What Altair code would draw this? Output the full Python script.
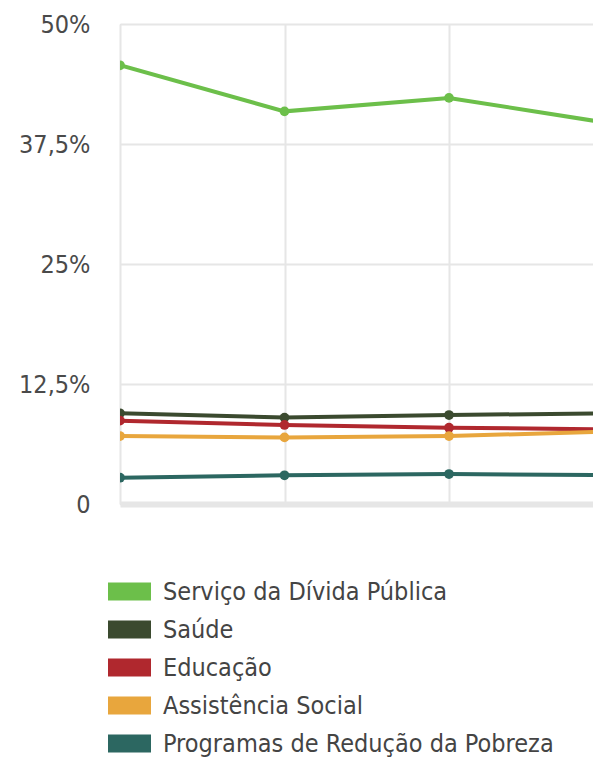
import altair as alt
import pandas as pd

periodos = [0, 1, 2, 3]
series = [
    "Serviço da Dívida Pública",
    "Saúde",
    "Educação",
    "Assistência Social",
    "Programas de Redução da Pobreza",
]
divida = [45.7, 40.9, 42.3, 39.6]
saude = [9.45, 9.0, 9.27, 9.45]
educacao = [8.68, 8.23, 7.95, 7.77]
assistencia = [7.08, 6.94, 7.08, 7.55]
pobreza = [2.74, 2.99, 3.12, 3.01]
cores = ["#6cbf4a", "#3b4a2f", "#b0282e", "#e8a63d", "#2c6761"]

valores = [divida, saude, educacao, assistencia, pobreza]
rows = []
for nome, vals in zip(series, valores):
    for p, v in zip(periodos, vals):
        rows.append({"periodo": p, "serie": nome, "valor": v})
df = pd.DataFrame(rows)

W = 473
H = 480
step = 164.5
xdom = [0, W / step]

FONT = "DejaVu Sans Condensed, Liberation Sans Narrow, DejaVu Sans"

x = alt.X(
    "periodo:Q",
    scale=alt.Scale(domain=xdom, nice=False, zero=False),
    axis=alt.Axis(
        values=[0, 1, 2, 3],
        labels=False,
        ticks=False,
        title=None,
        grid=True,
        gridColor="#e6e6e6",
        gridWidth=2,
        domain=True,
        domainColor="#e6e6e6",
        domainWidth=6,
    ),
)
y = alt.Y(
    "valor:Q",
    scale=alt.Scale(domain=[0, 50], nice=False),
    axis=alt.Axis(
        values=[0, 12.5, 25, 37.5, 50],
        labelExpr="datum.value == 0 ? '0' : replace(format(datum.value, '.1~f'), '.', ',') + '%'",
        ticks=False,
        tickSize=0,
        domain=False,
        title=None,
        grid=True,
        gridColor="#e6e6e6",
        gridWidth=2,
        labelFont=FONT,
        labelFontSize=25,
        labelColor="#4a4a4a",
        labelPadding=30,
        labelBaseline="middle",
    ),
)

color_scale = alt.Scale(domain=series, range=cores)

legend = alt.Legend(
    title=None,
    orient="none",
    legendX=-12,
    legendY=546,
    direction="vertical",
    symbolType="M-1,-0.42H1V0.42H-1Z",
    symbolSize=1849,
    symbolStrokeWidth=0,
    symbolOpacity=1,
    labelFont=FONT,
    labelFontSize=25,
    labelColor="#444444",
    labelOffset=12,
    rowPadding=3,
    padding=0,
    labelLimit=600,
)

lines = alt.Chart(df).mark_line(strokeWidth=4, clip=True).encode(
    x=x,
    y=y,
    color=alt.Color("serie:N", scale=color_scale, sort=series, legend=None),
    detail="serie:N",
)
points = alt.Chart(df).mark_circle(size=95, opacity=1, clip=True).encode(
    x=x,
    y=y,
    color=alt.Color("serie:N", scale=color_scale, sort=series, legend=legend),
)

chart = (
    alt.layer(lines, points)
    .resolve_legend(color="independent")
    .properties(
        width=W,
        height=H,
        autosize=alt.AutoSizeParams(type="none"),
        padding={"left": 112, "top": 16, "right": 0, "bottom": 254},
    )
    .configure_view(stroke=None)
    .configure(background="white")
)

chart.save("out.html", embed_options={"renderer": "svg", "actions": False})
